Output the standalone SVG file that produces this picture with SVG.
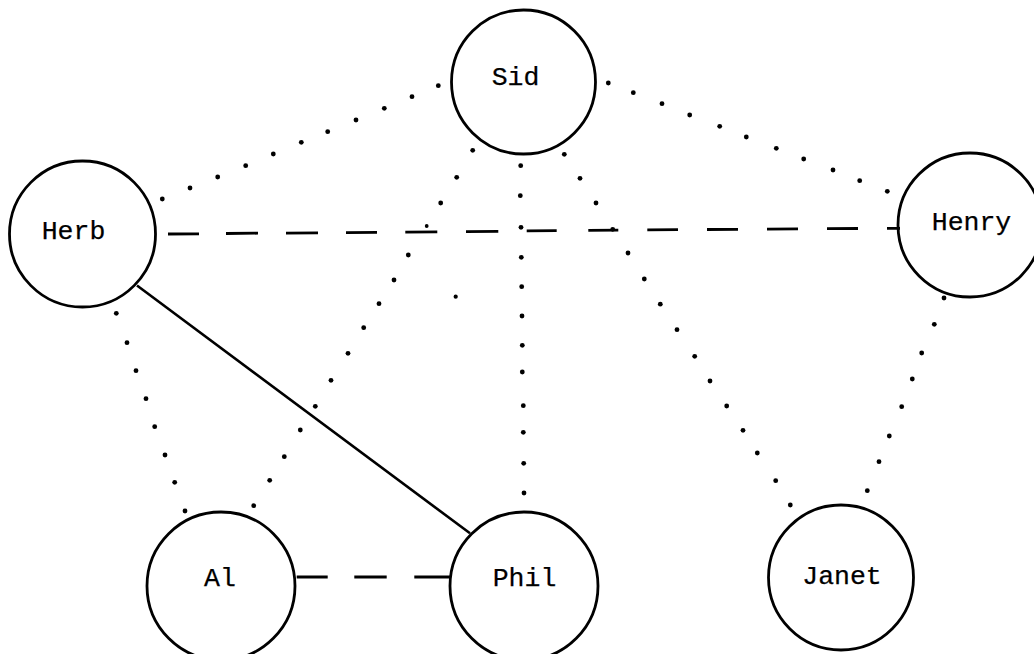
<svg xmlns="http://www.w3.org/2000/svg" width="1034" height="654" viewBox="0 0 1034 654">
<style>
.n{fill:none;stroke:#000;stroke-width:2.8}
.t{font-family:"Liberation Mono","DejaVu Sans Mono",monospace;font-size:26.5px;fill:#000;stroke:#000;stroke-width:0.25;text-anchor:middle}
.d circle{fill:#000}
.dash{fill:none;stroke:#000;stroke-width:2.8}
.solid{fill:none;stroke:#000;stroke-width:2.6}
</style>
<rect width="1034" height="654" fill="#fff"/>
<g id="connectors">
<g id="sid-herb" class="d">
<circle cx="438.3" cy="85.7" r="2.4"/><circle cx="412" cy="96.7" r="2.4"/><circle cx="384.3" cy="108.3" r="2.4"/><circle cx="356" cy="120" r="2.4"/><circle cx="327.7" cy="131.7" r="2.4"/><circle cx="301.3" cy="142.3" r="2.4"/><circle cx="273.3" cy="154" r="2.4"/><circle cx="245.7" cy="165.7" r="2.4"/><circle cx="217.7" cy="177" r="2.4"/><circle cx="190" cy="188" r="2.4"/><circle cx="162.3" cy="199" r="2.4"/>
</g>
<g id="sid-henry" class="d">
<circle cx="608.3" cy="83" r="2.4"/><circle cx="633.3" cy="92.7" r="2.4"/><circle cx="662" cy="103.7" r="2.4"/><circle cx="689.7" cy="115" r="2.4"/><circle cx="719.7" cy="126.3" r="2.4"/><circle cx="746.3" cy="137" r="2.4"/><circle cx="776.3" cy="148.3" r="2.4"/><circle cx="803.7" cy="159" r="2.4"/><circle cx="833" cy="170" r="2.4"/><circle cx="859.7" cy="180.7" r="2.4"/><circle cx="887.3" cy="191.3" r="2.4"/>
</g>
<g id="sid-phil" class="d">
<circle cx="520.7" cy="165.7" r="2.4"/><circle cx="520.3" cy="195.7" r="2.4"/><circle cx="521" cy="227.3" r="2.4"/><circle cx="521.3" cy="257.3" r="2.4"/><circle cx="521.7" cy="286.7" r="2.4"/><circle cx="522" cy="316" r="2.4"/><circle cx="522.3" cy="345.3" r="2.4"/><circle cx="522.3" cy="372" r="2.4"/><circle cx="523.3" cy="405.7" r="2.4"/><circle cx="523.3" cy="432.3" r="2.4"/><circle cx="523.7" cy="463.3" r="2.4"/><circle cx="524" cy="493" r="2.4"/>
</g>
<g id="sid-al" class="d">
<circle cx="472.7" cy="150.3" r="2.4"/><circle cx="456.7" cy="177.3" r="2.4"/><circle cx="440.7" cy="203" r="2.4"/><circle cx="426.7" cy="226" r="1.9"/><circle cx="408.3" cy="255" r="2.4"/><circle cx="394" cy="280" r="2.4"/><circle cx="379" cy="303.7" r="2.4"/><circle cx="363.7" cy="327.7" r="2.4"/><circle cx="348" cy="353.3" r="2.4"/><circle cx="331" cy="380.3" r="2.4"/><circle cx="315.3" cy="406.3" r="2.4"/><circle cx="300.3" cy="430" r="2.4"/><circle cx="284.3" cy="456.7" r="2.4"/><circle cx="269.7" cy="480.3" r="2.4"/><circle cx="253.7" cy="505.7" r="2.4"/>
<circle cx="455.7" cy="296.7" r="2.1"/>
</g>
<g id="sid-janet" class="d">
<circle cx="564.3" cy="154.3" r="2.4"/><circle cx="580" cy="178.3" r="2.4"/><circle cx="596" cy="203" r="2.4"/><circle cx="612.7" cy="229.3" r="2.4"/><circle cx="628" cy="253" r="2.4"/><circle cx="644.3" cy="279" r="2.4"/><circle cx="660.3" cy="304.2" r="2.4"/><circle cx="677" cy="329.7" r="2.4"/><circle cx="694.7" cy="356.3" r="2.4"/><circle cx="710" cy="381" r="2.4"/><circle cx="726.7" cy="406" r="2.4"/><circle cx="743" cy="430.3" r="2.4"/><circle cx="757.3" cy="453" r="2.4"/><circle cx="775.7" cy="480.7" r="2.4"/><circle cx="790.3" cy="505" r="2.4"/>
</g>
<g id="herb-al" class="d">
<circle cx="116.3" cy="313.3" r="2.4"/><circle cx="127" cy="342.7" r="2.4"/><circle cx="136" cy="370.7" r="2.4"/><circle cx="146" cy="398.7" r="2.4"/><circle cx="154.7" cy="426.7" r="2.4"/><circle cx="165" cy="455" r="2.4"/><circle cx="174.7" cy="482.3" r="2.4"/><circle cx="185" cy="511" r="2.4"/>
</g>
<g id="henry-janet" class="d">
<circle cx="944" cy="298" r="2.4"/><circle cx="934.3" cy="324.3" r="2.4"/><circle cx="921.7" cy="353" r="2.4"/><circle cx="912.3" cy="379" r="2.4"/><circle cx="901.7" cy="406.7" r="2.4"/><circle cx="889.3" cy="436" r="2.4"/><circle cx="879" cy="461.7" r="2.4"/><circle cx="867.3" cy="490.7" r="2.4"/>
</g>
<path id="herb-henry" class="dash" d="M168 234 L199 233.8 M226 233.5 L258 233.2 M286 233.1 L318 232.8 M346 232.6 L377 232.4 M405.3 232.2 L437.3 231.9 M466 231.6 L498.3 231.3 M526.7 230.9 L556.7 230.7 M588.3 230.4 L618.3 230.2 M647.3 229.9 L678 229.7 M707 229.5 L738 229.3 M767 229.1 L798 228.9 M827 228.7 L858 228.5 M887 228.4 L900 228.3"/>
<path id="al-phil" class="dash" d="M296.7 577 L327.7 577 M354.3 577 L386.7 577 M414.3 577 L450 577"/>
<line id="herb-phil" class="solid" x1="137" y1="285.5" x2="470" y2="533.3"/>
</g>
<g id="sid"><circle class="n" cx="523.5" cy="82" r="72"/><text class="t" x="515.5" y="84.5">Sid</text></g>
<g id="herb"><circle class="n" cx="82.5" cy="234" r="73"/><text class="t" x="73.5" y="239">Herb</text></g>
<g id="henry"><circle class="n" cx="970" cy="225" r="72"/><text class="t" x="971.5" y="229.5">Henry</text></g>
<g id="al"><circle class="n" cx="221" cy="586" r="74"/><text class="t" x="220" y="586">Al</text></g>
<g id="phil"><circle class="n" cx="524" cy="586" r="74"/><text class="t" x="524.5" y="586">Phil</text></g>
<g id="janet"><circle class="n" cx="841" cy="577.5" r="72.5"/><text class="t" x="842" y="584">Janet</text></g>
</svg>
